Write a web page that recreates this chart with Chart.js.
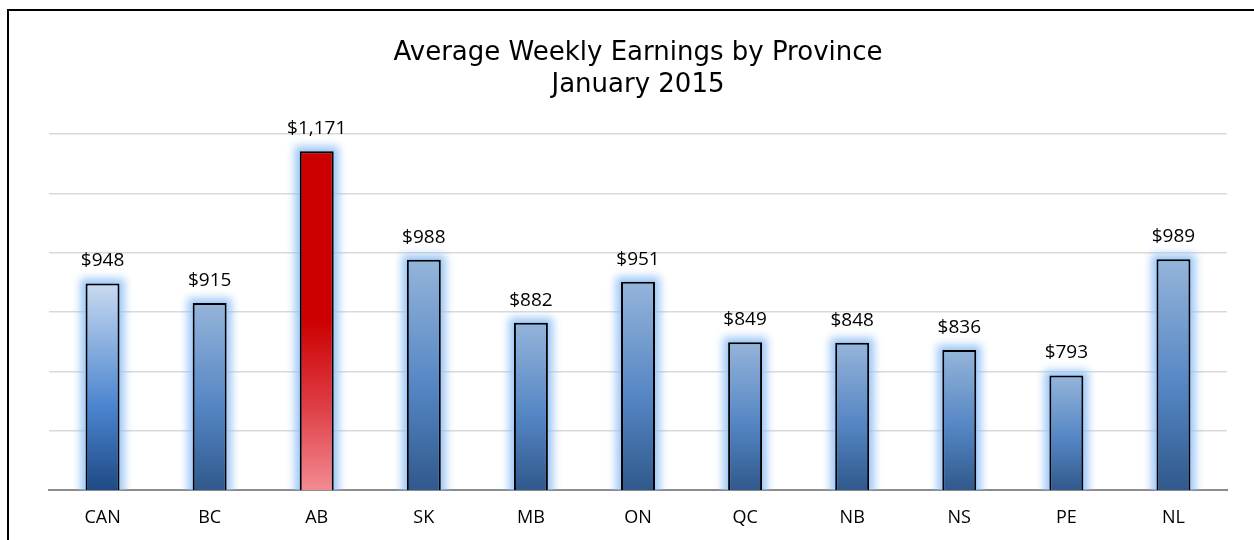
<!DOCTYPE html>
<html>
<head>
<meta charset="utf-8">
<script src="https://cdn.jsdelivr.net/npm/chart.js@4.4.1/dist/chart.umd.min.js"></script>
<style>
  html, body { margin: 0; padding: 0; background: #ffffff; }
  #wrap { position: relative; width: 1254px; height: 540px; overflow: hidden; }
  #frame { position: absolute; left: 7px; top: 9px; width: 1400px; height: 700px; border: 2px solid #000; box-sizing: border-box; }
  canvas { position: absolute; left: 0; top: 0; }
</style>
</head>
<body>
<div id="wrap">
  <div id="frame"></div>
  <canvas id="c" width="1254" height="540"></canvas>
</div>
<script>
const titleLines = ['Average Weekly Earnings by Province', 'January 2015'];
const provinces = ['CAN', 'BC', 'AB', 'SK', 'MB', 'ON', 'QC', 'NB', 'NS', 'PE', 'NL'];
const earnings = [948, 915, 1171, 988, 882, 951, 849, 848, 836, 793, 989];
const highlightProvince = 'AB';
const nationalProvince = 'CAN';
const yMin = 600, yMax = 1200, yStep = 100;

function fmt(v) { return '$' + v.toLocaleString('en-US'); }

function barFill(ctx) {
  const chart = ctx.chart;
  const y = chart.scales.y;
  const fallback = '#5a8bc8';
  if (!y || !chart.chartArea || ctx.type !== 'data') return fallback;
  const v = ctx.raw;
  const top = y.getPixelForValue(v);
  const bot = y.getPixelForValue(yMin);
  if (!isFinite(top) || !isFinite(bot) || bot - top < 1) return fallback;
  const g = chart.ctx.createLinearGradient(0, top, 0, bot);
  const cat = provinces[ctx.dataIndex];
  if (cat === highlightProvince) {
    g.addColorStop(0, '#cc0000');
    g.addColorStop(0.5, '#cc0000');
    g.addColorStop(0.75, '#de3d44');
    g.addColorStop(1, '#f48a92');
  } else if (cat === nationalProvince) {
    g.addColorStop(0, '#c9daf0');
    g.addColorStop(0.6, '#4a84cf');
    g.addColorStop(1, '#1f4a84');
  } else {
    g.addColorStop(0, '#95b4da');
    g.addColorStop(0.55, '#5586c4');
    g.addColorStop(1, '#30598c');
  }
  return g;
}

const glowPlugin = {
  id: 'glow',
  beforeDatasetsDraw(chart) {
    const ctx = chart.ctx;
    const meta = chart.getDatasetMeta(0);
    const a = chart.chartArea;
    ctx.save();
    ctx.beginPath();
    ctx.rect(a.left, a.top - 40, a.right - a.left, a.bottom - a.top + 40);
    ctx.clip();
    ctx.filter = 'blur(4px)';
    ctx.fillStyle = 'rgba(145,192,245,0.9)';
    meta.data.forEach(el => {
      const p = el.getProps(['x', 'y', 'base', 'width'], true);
      ctx.fillRect(p.x - p.width / 2 - 5, p.y - 5, p.width + 10, p.base - p.y + 10);
    });
    ctx.restore();
  }
};

const labelPlugin = {
  id: 'valueLabels',
  afterDatasetsDraw(chart) {
    const ctx = chart.ctx;
    const meta = chart.getDatasetMeta(0);
    ctx.save();
    ctx.font = '19px "Open Sans"';
    ctx.fillStyle = '#000';
    ctx.textAlign = 'center';
    ctx.textBaseline = 'alphabetic';
    meta.data.forEach((el, i) => {
      const p = el.getProps(['x', 'y'], true);
      ctx.fillText(fmt(earnings[i]), p.x, p.y - 17);
    });
    ctx.restore();
  }
};

new Chart(document.getElementById('c'), {
  type: 'bar',
  data: {
    labels: provinces,
    datasets: [{
      data: earnings,
      backgroundColor: barFill,
      borderColor: '#000000',
      borderWidth: 2,
      borderSkipped: false,
      barPercentage: 0.317,
      categoryPercentage: 1.0
    }]
  },
  options: {
    responsive: false,
    animation: false,
    devicePixelRatio: 1,
    layout: { padding: { left: 49, right: 27, top: 37, bottom: 0 } },
    plugins: {
      legend: { display: false },
      tooltip: { enabled: false },
      title: {
        display: true,
        text: titleLines,
        color: '#000',
        font: { family: '"DejaVu Sans"', size: 26, weight: 'normal', lineHeight: 1.23 },
        padding: { top: 0, bottom: 33 }
      }
    },
    scales: {
      x: {
        grid: { display: false, drawTicks: false },
        border: { display: true, color: '#8c8c8c', width: 2 },
        ticks: { color: '#000', font: { family: '"Open Sans"', size: 18 }, padding: 17 },
        afterFit(scale) { scale.height = 50; }
      },
      y: {
        min: yMin, max: yMax,
        ticks: { display: false, stepSize: yStep },
        grid: { color: '#d9d9d9', lineWidth: 1.5, drawTicks: false },
        border: { display: false }
      }
    }
  },
  plugins: [glowPlugin, labelPlugin]
});
</script>
</body>
</html>
